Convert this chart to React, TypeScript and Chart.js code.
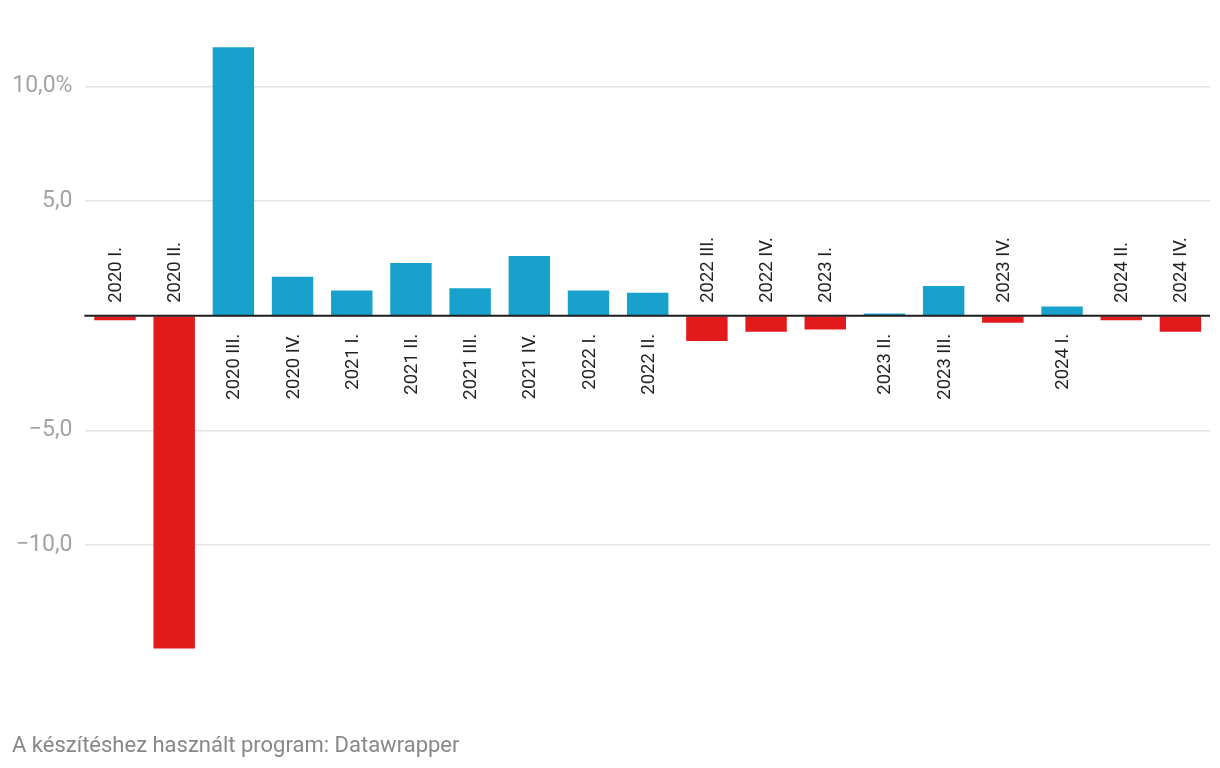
import React, { useEffect, useRef } from "react";
import { Chart, registerables } from "chart.js";

Chart.register(...registerables);

const categories = [
  "2020 I.", "2020 II.", "2020 III.", "2020 IV.",
  "2021 I.", "2021 II.", "2021 III.", "2021 IV.",
  "2022 I.", "2022 II.", "2022 III.", "2022 IV.",
  "2023 I.", "2023 II.", "2023 III.", "2023 IV.",
  "2024 I.", "2024 II.", "2024 IV.",
];
const values = [
  -0.2, -14.5, 11.7, 1.7,
  1.1, 2.3, 1.2, 2.6,
  1.1, 1.0, -1.1, -0.7,
  -0.6, 0.1, 1.3, -0.3,
  0.4, -0.2, -0.7,
];
const yTicks = [-10, -5, 0, 5, 10];
const footerText = "A készítéshez használt program: Datawrapper";

const BLUE = "#18a1cd";
const RED = "#e31a1c";
const FONT = "Roboto, 'Noto Sans', sans-serif";

function fmtTick(v: number): string {
  if (v === 0) return "";
  let s = Math.abs(v).toFixed(1).replace(".", ",");
  if (v < 0) s = "\u2212" + s;
  if (v === 10) s += "%";
  return s;
}

const labelPlugin = {
  id: "customLabels",
  afterDatasetsDraw(chart: any) {
    const ctx = chart.ctx;
    const x = chart.scales.x;
    const y = chart.scales.y;
    const zeroY = y.getPixelForValue(0);
    // zero line
    ctx.save();
    ctx.strokeStyle = "#1d1d1d";
    ctx.lineWidth = 2;
    ctx.beginPath();
    ctx.moveTo(chart.chartArea.left - 1, zeroY);
    ctx.lineTo(chart.chartArea.right, zeroY);
    ctx.stroke();
    ctx.restore();

    // category labels
    categories.forEach((cat, i) => {
      const cx = x.getPixelForValue(i);
      const v = values[i];
      ctx.save();
      ctx.fillStyle = "#222";
      ctx.font = `19px ${FONT}`;
      ctx.textBaseline = "alphabetic";
      if (v >= 0) {
        ctx.translate(cx + 6, zeroY + 18);
        ctx.rotate(-Math.PI / 2);
        ctx.scale(0.97, 1);
        ctx.textAlign = "right";
      } else {
        ctx.translate(cx + 6, zeroY - 13);
        ctx.rotate(-Math.PI / 2);
        ctx.scale(0.97, 1);
        ctx.textAlign = "left";
      }
      ctx.fillText(cat, 0, 0);
      ctx.restore();
    });

    // footer
    ctx.save();
    ctx.fillStyle = "#888";
    ctx.font = `22px ${FONT}`;
    ctx.textAlign = "left";
    ctx.textBaseline = "alphabetic";
    ctx.fillText(footerText, 12, 752);
    ctx.restore();
  },
};

export default function App() {
  const ref = useRef<HTMLCanvasElement | null>(null);
  useEffect(() => {
    if (!ref.current) return;
    const chart = new Chart(ref.current, {
      type: "bar",
      data: {
        labels: categories,
        datasets: [
          {
            data: values,
            backgroundColor: values.map((v) => (v >= 0 ? BLUE : RED)),
            barPercentage: 0.7,
            categoryPercentage: 1,
            borderWidth: 0,
          },
        ],
      },
      options: {
        animation: false,
        responsive: false,
        layout: { padding: { top: 29, bottom: 68, left: 0, right: 10 } },
        plugins: { legend: { display: false }, tooltip: { enabled: false } },
        scales: {
          x: { display: false },
          y: {
            min: -16.75,
            max: 12.5,
            afterBuildTicks: (axis: any) => {
              axis.ticks = yTicks.map((v) => ({ value: v }));
            },
            afterFit: (axis: any) => {
              axis.width = 85.4;
            },
            border: { display: false },
            grid: {
              drawTicks: false,
              color: (c: any) => (c.tick && c.tick.value === 0 ? "rgba(0,0,0,0)" : "#e3e3e3"),
              lineWidth: 1.5,
            },
            ticks: {
              padding: 13,
              color: "#a3a3a3",
              font: { family: FONT, size: 23 },
              callback: (v: any) => fmtTick(Number(v)),
            },
          },
        },
      },
      plugins: [labelPlugin],
    });
    return () => chart.destroy();
  }, []);
  return (
    <canvas
      ref={ref}
      width={1220}
      height={768}
      style={{ position: "absolute", left: 0, top: 0, width: 1220, height: 768 }}
    />
  );
}
